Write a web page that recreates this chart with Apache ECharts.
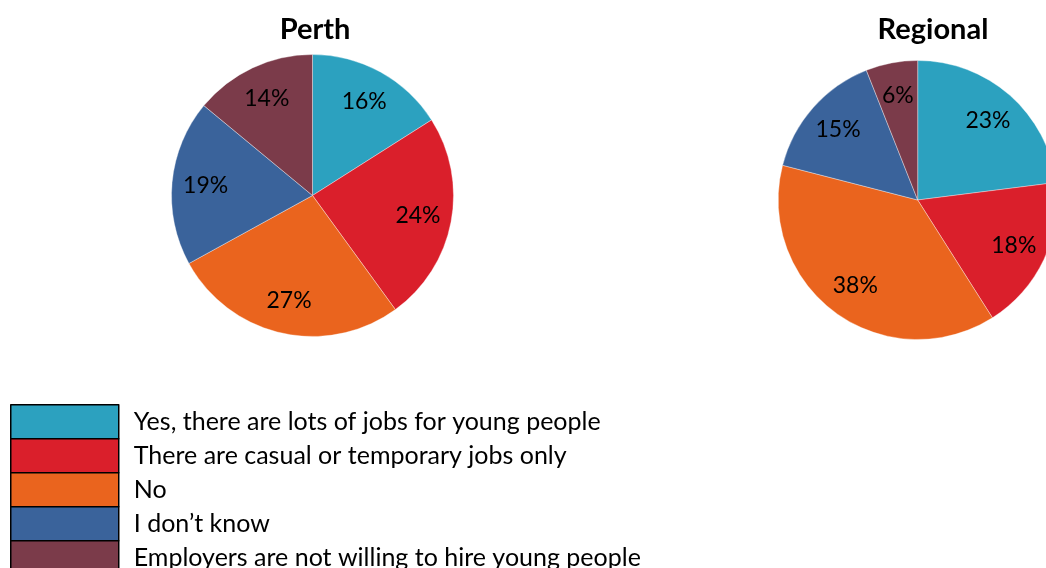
<!DOCTYPE html>
<html>
<head>
<meta charset="utf-8">
<script src="https://cdn.jsdelivr.net/npm/echarts@6/dist/echarts.min.js"></script>
<style>html,body{margin:0;padding:0;background:#fff}#c{width:1046px;height:568px}</style>
</head>
<body>
<div id="c"></div>
<script>
const categories = [
  'Yes, there are lots of jobs for young people',
  'There are casual or temporary jobs only',
  'No',
  'I don\u2019t know',
  'Employers are not willing to hire young people'
];
const colors = ['#2CA1BF', '#DA1F2B', '#EA641E', '#3A639B', '#7B3B4A'];
const perthValues = [16, 24, 27, 19, 14];
const regionalValues = [23, 18, 38, 15, 6];
const titles = ['Perth', 'Regional'];

const FONT = 'Lato';
const chart = echarts.init(document.getElementById('c'), null, {renderer: 'canvas'});

function pieData(vals) {
  return vals.map((v, i) => ({name: categories[i], value: v, itemStyle: {color: colors[i]}}));
}
function labelData(vals) {
  return vals.map((v, i) => ({name: categories[i], value: v}));
}
function mainPie(center, r, vals) {
  return {
    type: 'pie', center: center, radius: [0, r], startAngle: 90, clockwise: true,
    silent: true, animation: false,
    itemStyle: {borderColor: 'rgba(255,255,255,0.6)', borderWidth: 0.6},
    label: {show: false}, labelLine: {show: false},
    data: pieData(vals)
  };
}
function labelPie(center, r, vals) {
  return {
    type: 'pie', center: center, radius: [0, r * 1.48], startAngle: 90, clockwise: true,
    silent: true, animation: false,
    itemStyle: {color: 'rgba(0,0,0,0)', borderWidth: 0},
    label: {show: true, position: 'inside', formatter: '{c}%', color: '#000', fontSize: 23, fontFamily: FONT},
    labelLine: {show: false},
    data: labelData(vals)
  };
}

chart.setOption({
  animation: false,
  title: [
    {text: titles[0], left: 315, top: 15, padding: 0, textAlign: 'center', textStyle: {fontSize: 29, fontWeight: 'bold', fontFamily: FONT, color: '#000'}},
    {text: titles[1], left: 933, top: 15, padding: 0, textAlign: 'center', textStyle: {fontSize: 29, fontWeight: 'bold', fontFamily: FONT, color: '#000'}}
  ],
  legend: {
    orient: 'vertical', left: 10, top: 404, height: 220, padding: 0,
    itemWidth: 108, itemHeight: 34, itemGap: -1.5,
    icon: 'rect', selectedMode: false,
    itemStyle: {borderColor: '#000', borderWidth: 1.5},
    textStyle: {fontSize: 25, lineHeight: 30, fontFamily: FONT, color: '#000', padding: [0, 0, 0, 10]},
    data: categories
  },
  series: [
    mainPie([312.5, 195.5], 141, perthValues),
    mainPie([917.7, 200], 139.5, regionalValues),
    labelPie([312.5, 195.5], 141, perthValues),
    labelPie([917.7, 200], 139.5, regionalValues)
  ]
});
</script>
</body>
</html>
